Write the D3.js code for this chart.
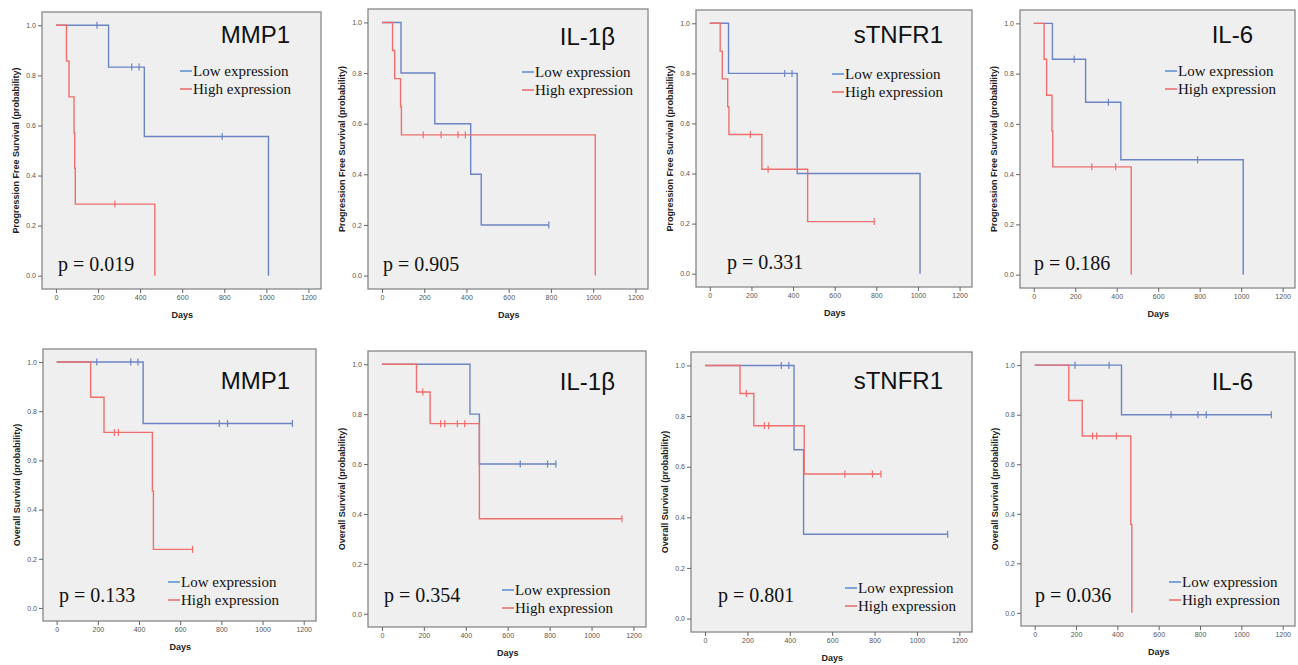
<!DOCTYPE html>
<html>
<head>
<meta charset="utf-8">
<script src="https://cdn.jsdelivr.net/npm/d3@7"></script>
<style>
  body { margin: 0; background: #fff; }
  svg { display: block; }
</style>
</head>
<body>
<div class="container"></div>
<script>
// marker names and p values, top row = PFS, bottom row = OS
const markers = ["MMP1", "IL-1β", "sTNFR1", "IL-6", "MMP1", "IL-1β", "sTNFR1", "IL-6"];
const pValues = ["0.019", "0.905", "0.331", "0.186", "0.133", "0.354", "0.801", "0.036"];
const yTitles = ["Progression Free Survival (probability)", "Overall Survival (probability)"];
const seriesNames = ["Low expression", "High expression"];
const xTicks = [0, 200, 400, 600, 800, 1000, 1200];
const yTicks = [0, 0.2, 0.4, 0.6, 0.8, 1.0];

// Kaplan-Meier steps [day, survival] for the low expression group
const lowSteps = [
  [[0, 1], [250, 0.833], [420, 0.556], [1010, 0]],
  [[0, 1], [90, 0.8], [250, 0.6], [420, 0.4], [470, 0.2]],
  [[0, 1], [90, 0.8], [420, 0.4], [1010, 0]],
  [[0, 1], [90, 0.857], [250, 0.686], [420, 0.457], [1010, 0]],
  [[0, 1], [420, 0.75]],
  [[0, 1], [420, 0.8], [465, 0.6]],
  [[0, 1], [420, 0.667], [465, 0.333]],
  [[0, 1], [420, 0.8]]
];
const lowEnd = [1010, 790, 1010, 1010, 1145, 830, 1145, 1145];
const lowCensor = [
  [195, 360, 395, 790],
  [790],
  [360, 395],
  [195, 360, 790],
  [195, 360, 395, 790, 830, 1145],
  [660, 790, 830],
  [360, 395, 1145],
  [195, 360, 660, 790, 830, 1145]
];

// same for the high expression group
const highSteps = [
  [[0, 1], [50, 0.857], [62, 0.714], [86, 0.571], [89, 0.429], [92, 0.286], [470, 0]],
  [[0, 1], [50, 0.889], [60, 0.778], [88, 0.667], [92, 0.556], [1010, 0]],
  [[0, 1], [50, 0.889], [60, 0.778], [86, 0.667], [92, 0.556], [250, 0.417], [470, 0.208]],
  [[0, 1], [50, 0.857], [62, 0.714], [88, 0.571], [92, 0.429], [470, 0]],
  [[0, 1], [165, 0.857], [230, 0.714], [465, 0.476], [470, 0.238]],
  [[0, 1], [165, 0.889], [230, 0.762], [465, 0.381]],
  [[0, 1], [165, 0.889], [230, 0.762], [468, 0.571]],
  [[0, 1], [165, 0.857], [230, 0.714], [465, 0.357], [470, 0]]
];
const highEnd = [470, 1010, 790, 470, 660, 1145, 830, 470];
const highCensor = [
  [280],
  [195, 280, 360, 395],
  [195, 280, 790],
  [280, 395],
  [280, 300, 660],
  [195, 280, 300, 360, 395, 1145],
  [195, 280, 300, 660, 790, 830],
  [280, 300, 395]
];

/* layout of each panel: plot box and text anchors (pixels) */
const boxes = [
  [42, 12, 321, 289], [368, 9, 648, 289], [696, 10, 972, 287], [1020, 10, 1295, 288],
  [43, 349, 316, 621], [368, 351, 646, 627], [691, 352, 972, 632], [1021, 352, 1295, 626]
];
const titlePos = [[290, 43], [615, 45], [943, 43], [1253, 43], [290, 389], [615, 390], [943, 389], [1253, 390]];
const legendPos = [[180, 71], [522, 72], [832, 74], [1165, 71], [168, 582], [502, 590], [845, 588], [1169, 582]];
const pPos = [[58, 271], [383, 271], [727, 269], [1034, 270], [59, 602], [384, 602], [718, 602], [1035, 602]];

const lineColors = ["#6b84c4", "#ef6f6f"];
const legendColors = ["#3f7fcc", "#e85555"];

const w = 1298;
const h = 665;

const svg = d3.select(".container")
  .append("svg")
  .attr("width", w)
  .attr("height", h);

const survivalAt = (steps, t) => {
  let s = 1;
  steps.forEach((d) => { if (d[0] <= t) s = d[1]; });
  return s;
};

markers.forEach((name, i) => {
  const [l, t, r, b] = boxes[i];
  const bw = r - l;
  const bh = b - t;
  const g = svg.append("g");

  const x = d3.scaleLinear().domain([0, 1200]).range([l + 0.05 * bw, l + 0.955 * bw]);
  const y = d3.scaleLinear().domain([0, 1]).range([t + 0.952 * bh, t + 0.048 * bh]);

  // panel background
  g.append("rect")
    .attr("x", l).attr("y", t)
    .attr("width", bw).attr("height", bh)
    .attr("fill", "#efefef")
    .attr("stroke", "#878787")
    .attr("stroke-width", 1.3);

  // axes
  const yAxis = g.append("g")
    .attr("transform", "translate(" + l + ",0)")
    .call(d3.axisLeft(y).tickValues(yTicks).tickFormat(d3.format(".1f")).tickSize(4).tickPadding(2));
  const xAxis = g.append("g")
    .attr("transform", "translate(0," + b + ")")
    .call(d3.axisBottom(x).tickValues(xTicks).tickFormat(d3.format("d")).tickSize(4).tickPadding(2));
  [yAxis, xAxis].forEach((a) => {
    a.select(".domain").remove();
    a.selectAll("line").attr("stroke", "#666");
    a.selectAll("text")
      .attr("fill", "#555")
      .style("font-family", "Liberation Sans, Arial, sans-serif")
      .style("font-size", "7px");
  });

  // axis titles
  g.append("text")
    .attr("transform", "translate(" + (l - 26) + "," + (t + bh / 2) + ") rotate(-90)")
    .attr("text-anchor", "middle")
    .attr("dy", "0.35em")
    .style("font-family", "Liberation Sans, Arial, sans-serif")
    .style("font-weight", "bold")
    .style("font-size", "9px")
    .attr("fill", "#222")
    .text(yTitles[i < 4 ? 0 : 1]);

  g.append("text")
    .attr("x", (x(0) + x(1200)) / 2)
    .attr("y", b + 26)
    .attr("text-anchor", "middle")
    .attr("dy", "0.35em")
    .style("font-family", "Liberation Sans, Arial, sans-serif")
    .style("font-weight", "bold")
    .style("font-size", "9px")
    .attr("fill", "#222")
    .text("Days");

  // curves: low first, high on top
  const groups = [
    { steps: lowSteps[i], end: lowEnd[i], censor: lowCensor[i], color: lineColors[0] },
    { steps: highSteps[i], end: highEnd[i], censor: highCensor[i], color: lineColors[1] }
  ];
  const line = d3.line()
    .x((d) => x(d[0]))
    .y((d) => y(d[1]))
    .curve(d3.curveStepAfter);

  groups.forEach((s) => {
    const last = s.steps[s.steps.length - 1];
    const pts = s.steps.concat(last[0] < s.end ? [[s.end, last[1]]] : []);
    g.append("path")
      .datum(pts)
      .attr("d", line)
      .attr("fill", "none")
      .attr("stroke", s.color)
      .attr("stroke-width", 1.4);

    g.selectAll(null)
      .data(s.censor)
      .enter()
      .append("line")
      .attr("x1", (d) => x(d))
      .attr("x2", (d) => x(d))
      .attr("y1", (d) => y(survivalAt(s.steps, d)) - 3.5)
      .attr("y2", (d) => y(survivalAt(s.steps, d)) + 3.5)
      .attr("stroke", s.color)
      .attr("stroke-width", 1.2);
  });

  // marker title
  g.append("text")
    .attr("x", titlePos[i][0])
    .attr("y", titlePos[i][1])
    .attr("text-anchor", "end")
    .style("font-family", "Liberation Sans, Arial, sans-serif")
    .style("font-size", "24px")
    .attr("fill", "#111")
    .text(name);

  // legend
  seriesNames.forEach((sn, k) => {
    const lx = legendPos[i][0];
    const ly = legendPos[i][1] + k * 18;
    g.append("line")
      .attr("x1", lx).attr("x2", lx + 12)
      .attr("y1", ly).attr("y2", ly)
      .attr("stroke", legendColors[k])
      .attr("stroke-width", 1.3);
    g.append("text")
      .attr("x", lx + 13)
      .attr("y", ly)
      .attr("dy", "0.33em")
      .style("font-family", "Liberation Serif, Times New Roman, serif")
      .style("font-size", "15px")
      .attr("fill", "#111")
      .text(sn);
  });

  // p value
  g.append("text")
    .attr("x", pPos[i][0])
    .attr("y", pPos[i][1])
    .style("font-family", "Liberation Serif, Times New Roman, serif")
    .style("font-size", "20px")
    .attr("fill", "#111")
    .text("p = " + pValues[i]);
});
</script>
</body>
</html>
